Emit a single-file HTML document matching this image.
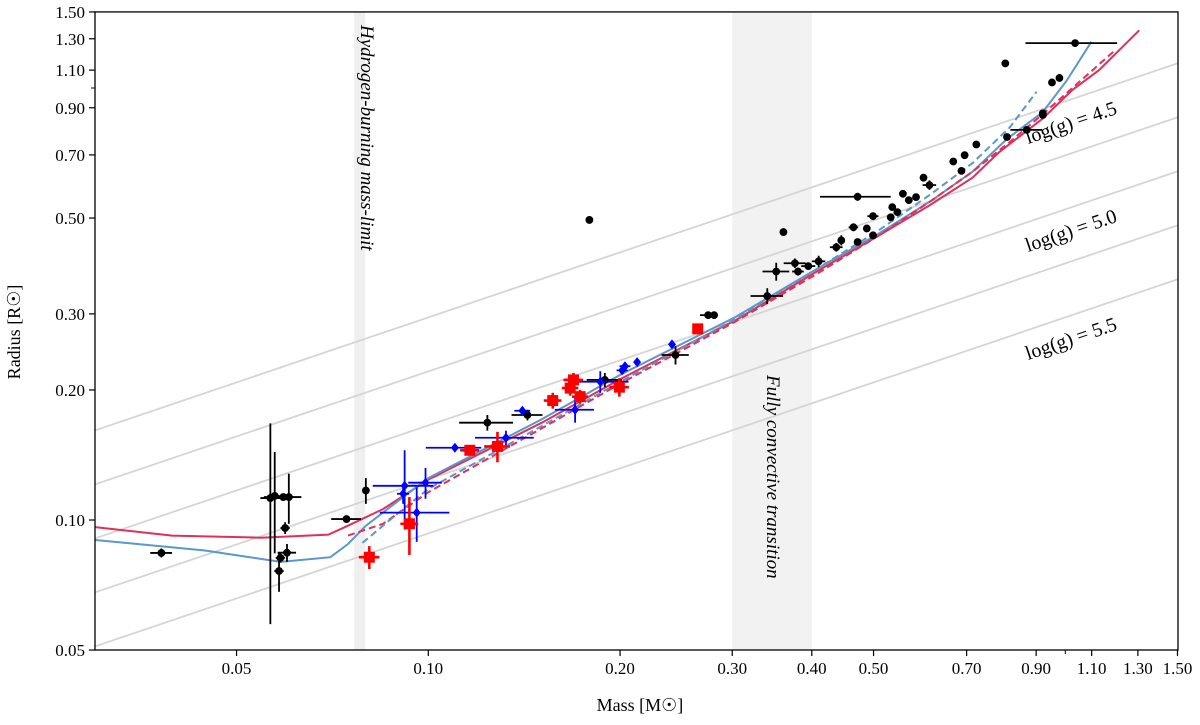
<!DOCTYPE html>
<html><head><meta charset="utf-8"><style>
body{margin:0;background:#fff}
svg text{font-family:"Liberation Serif",serif;fill:#000}
</style></head><body>
<svg id="chart" width="1200" height="720" xmlns="http://www.w3.org/2000/svg"></svg>
<script>
// ---- data ----
const xTicks=[0.05,0.10,0.20,0.30,0.40,0.50,0.70,0.90,1.10,1.30,1.50];
const yTicks=[0.05,0.10,0.20,0.30,0.50,0.70,0.90,1.10,1.30,1.50];
const loggLines=[4.5,4.75,5.0,5.25,5.5];
const loggLabels=[4.5,5.0,5.5];
const redSolidM=[0.030,0.0396,0.0546,0.0697,0.0748,0.0849,0.1,0.1507,0.2015,0.3036,0.406,0.509,0.612,0.715,0.787,0.922,1.026,1.13,1.306];
const redSolidR=[0.0963,0.092,0.091,0.0925,0.097,0.106,0.124,0.168,0.213,0.29,0.375,0.455,0.535,0.62,0.71,0.85,0.99,1.1,1.36];
const blueSolidM=[0.030,0.0446,0.0587,0.0702,0.0748,0.0798,0.0899,0.1,0.1507,0.2015,0.3036,0.406,0.509,0.612,0.715,0.808,0.922,1.005,1.099];
const blueSolidR=[0.0899,0.085,0.080,0.082,0.088,0.097,0.111,0.125,0.171,0.218,0.295,0.38,0.46,0.545,0.64,0.76,0.88,1.04,1.28];
const blueDashM=[0.0788,0.0899,0.1,0.1507,0.2015,0.3036,0.406,0.509,0.612,0.715,0.818,0.901];
const blueDashR=[0.0885,0.104,0.118,0.165,0.21,0.292,0.38,0.468,0.565,0.67,0.81,0.98];
const redDashM=[0.0748,0.0849,0.1,0.1507,0.2015,0.3036,0.406,0.509,0.612,0.715,0.818,0.922,1.026,1.202];
const redDashR=[0.092,0.098,0.116,0.163,0.208,0.288,0.37,0.455,0.545,0.64,0.75,0.87,1.0,1.23];
const blackM=[0.0381,0.0565,0.0574,0.0592,0.0604,0.0596,0.06,0.0586,0.0583,0.0744,0.0798,0.1238,0.1431,0.179,0.1893,0.2444,0.275,0.281,0.3405,0.3517,0.361,0.3763,0.3805,0.395,0.410,0.437,0.445,0.465,0.472,0.472,0.488,0.499,0.499,0.532,0.535,0.545,0.556,0.568,0.583,0.599,0.612,0.667,0.687,0.695,0.725,0.805,0.81,0.87,0.922,0.922,0.953,0.979,1.036];
const blackR=[0.0839,0.1124,0.1137,0.113,0.113,0.0958,0.084,0.0817,0.0762,0.1005,0.117,0.168,0.175,0.495,0.211,0.241,0.298,0.298,0.33,0.376,0.464,0.393,0.376,0.387,0.397,0.428,0.444,0.476,0.44,0.56,0.473,0.505,0.456,0.502,0.53,0.516,0.569,0.55,0.559,0.62,0.596,0.676,0.643,0.699,0.74,1.14,0.77,0.80,0.866,0.874,1.03,1.055,1.27];
const blackMe=[0.0015,0.002,0.001,0.004,0.001,0.001,0.002,0.001,0.001,0.004,0.0005,0.012,0.008,0,0.012,0.012,0.008,0,0.02,0.017,0,0.015,0.008,0.01,0.01,0.01,0,0.008,0,0.06,0,0.01,0,0,0,0,0,0,0,0,0.015,0,0,0,0,0,0,0.05,0,0,0,0,0.17];
const blackRe=[0.002,0.055,0.03,0.002,0.015,0.003,0.004,0.002,0.008,0.001,0.008,0.007,0.005,0,0.008,0.012,0.003,0,0.014,0.018,0,0.01,0.008,0.006,0.012,0.01,0.012,0.01,0.006,0.012,0.006,0.01,0.006,0,0,0,0,0,0,0,0.015,0,0,0,0,0,0,0,0,0,0,0,0.02];
const blueM=[0.1101,0.0918,0.099,0.0913,0.0959,0.1324,0.1405,0.170,0.1862,0.2015,0.2036,0.2127,0.2413];
const blueR=[0.147,0.12,0.122,0.115,0.104,0.155,0.179,0.18,0.209,0.222,0.227,0.232,0.255];
const blueMe=[0.011,0.01,0.006,0.002,0.012,0.014,0.004,0.012,0.02,0.004,0.004,0.002,0.002];
const blueRe=[0.002,0.025,0.01,0.006,0.015,0.006,0.004,0.012,0.012,0.003,0.003,0.002,0.002];
const redM=[0.0808,0.0934,0.1162,0.1284,0.1568,0.169,0.167,0.1731,0.1995,0.2648];
const redR=[0.082,0.098,0.145,0.148,0.189,0.211,0.202,0.193,0.203,0.277];
const redMe=[0.003,0.003,0.004,0.006,0.005,0.006,0.005,0.005,0.007,0.004];
const redRe=[0.005,0.015,0.004,0.012,0.008,0.008,0.008,0.007,0.01,0.004];

// ---- axes ----
const X0=95,X1=1178;
function xs(m){return 428.3+637*Math.log10(m/0.1);}
function ys(r){return 520-432*Math.log10(r/0.1);}
const Y0=ys(1.5),Y1=650;
const NS='http://www.w3.org/2000/svg';
const svg=document.getElementById('chart');
function el(t,a,p){const e=document.createElementNS(NS,t);for(const k in a)e.setAttribute(k,a[k]);(p||svg).appendChild(e);return e;}
const defs=el('defs',{});
const cp=el('clipPath',{id:'clip'},defs);el('rect',{x:X0,y:Y0,width:X1-X0,height:Y1-Y0},cp);
const plot=el('g',{'clip-path':'url(#clip)'});



let b1=el('rect',{x:xs(0.0765),y:Y0,width:xs(0.0796)-xs(0.0765),height:Y1-Y0,fill:'#efefef'},plot);


let b2=el('rect',{x:xs(0.3),y:Y0,width:xs(0.4)-xs(0.3),height:Y1-Y0,fill:'#f2f2f2'},plot);



function gR(m,g){return Math.pow(10,0.5*(4.438+Math.log10(m)-g));}
loggLines.forEach(g=>{
  const l=el('line',{x1:xs(0.03),y1:ys(gR(0.03,g)),x2:xs(1.5),y2:ys(gR(1.5,g)),stroke:'#d5d5d5','stroke-width':1.8},plot);
  
  
});

function line(M,R,color,dash,name){
  const d=M.map((m,i)=>(i?'L':'M')+xs(m).toFixed(1)+' '+ys(R[i]).toFixed(1)).join(' ');
  const p=el('path',{d:d,fill:'none',stroke:color,'stroke-width':2,'stroke-dasharray':dash||'none'},plot);
  
  
}
line(redSolidM,redSolidR,'#e0305a',null,'model-red-solid');
line(blueSolidM,blueSolidR,'#5b97c8',null,'model-blue-solid');
line(redDashM,redDashR,'#e0305a','7,4','model-red-dashed');
line(blueDashM,blueDashR,'#5b97c8','7,4','model-blue-dashed');

function pts(M,R,Me,Re,color,shape,name){
  M.forEach((m,i)=>{
    const g=el('g',{},plot);
    
    
    const cx=xs(m),cy=ys(R[i]);
    const w=shape==='sq'?2.6:1.8;
    if(Me[i]>0)el('line',{x1:xs(m-Me[i]),x2:xs(m+Me[i]),y1:cy,y2:cy,stroke:color,'stroke-width':w},g);
    if(Re[i]>0)el('line',{x1:cx,x2:cx,y1:ys(R[i]-Re[i]),y2:ys(R[i]+Re[i]),stroke:color,'stroke-width':w},g);
    if(shape==='c')el('circle',{cx:cx,cy:cy,r:3.9,fill:color},g);
    else if(shape==='d')el('path',{d:`M${cx} ${cy-5}L${cx+4} ${cy}L${cx} ${cy+5}L${cx-4} ${cy}Z`,fill:color},g);
    else el('rect',{x:cx-5.5,y:cy-5.5,width:11,height:11,fill:color},g);
  });
}
pts(blackM,blackR,blackMe,blackRe,'#000','c','black-star');
pts(blueM,blueR,blueMe,blueRe,'#0000ff','d','blue-star');
pts(redM,redR,redMe,redRe,'#ff0000','sq','red-star');

let t1=el('text',{x:0,y:0,'font-size':19,'font-style':'italic',transform:`translate(361,25) rotate(90)`});
t1.textContent='Hydrogen-burning mass-limit';


let t2=el('text',{x:0,y:0,'font-size':19,'font-style':'italic',transform:`translate(767,375) rotate(90)`});
t2.textContent='Fully convective transition';



const ang=-Math.atan(432*0.5/637)*180/Math.PI;
loggLabels.forEach(g=>{
  const lx=1028, m=0.1*Math.pow(10,(lx-428.3)/637);
  const ly=ys(gR(m,g))+30;
  const t=el('text',{x:0,y:0,'font-size':20,transform:`translate(${lx},${ly}) rotate(${ang})`});
  t.textContent='log(g) = '+g.toFixed(1);
  
  
});

let fr=el('rect',{x:X0,y:Y0,width:X1-X0,height:Y1-Y0,fill:'none',stroke:'#000','stroke-width':1.3});


xTicks.forEach(v=>{
  const x=xs(v);
  el('line',{x1:x,x2:x,y1:Y1,y2:Y1+6,stroke:'#000','stroke-width':1.2});
  const t=el('text',{x:x,y:Y1+24,'font-size':17,'text-anchor':'middle'});
  t.textContent=v.toFixed(2);
  
  
});
el('line',{x1:xs(1.0),x2:xs(1.0),y1:Y1,y2:Y1+4,stroke:'#000','stroke-width':1});
yTicks.forEach(v=>{
  const y=ys(v);
  el('line',{x1:X0-6,x2:X0,y1:y,y2:y,stroke:'#000','stroke-width':1.2});
  const t=el('text',{x:X0-10,y:y+6,'font-size':17,'text-anchor':'end'});
  t.textContent=v.toFixed(2);
  
  
});
el('line',{x1:X0-4,x2:X0,y1:ys(1.0),y2:ys(1.0),stroke:'#000','stroke-width':1});
let xl=el('text',{x:640,y:711,'font-size':18,'text-anchor':'middle'});
xl.textContent='Mass [M☉]';


let yl=el('text',{x:0,y:0,'font-size':18,'text-anchor':'middle',transform:'translate(20,332) rotate(-90)'});
yl.textContent='Radius [R☉]';


</script>
</body></html>
